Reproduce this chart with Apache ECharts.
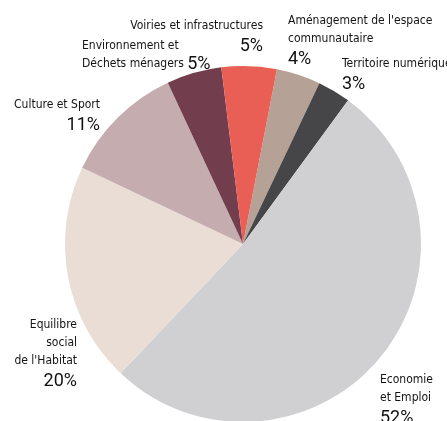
<!DOCTYPE html>
<html>
<head>
<meta charset="utf-8">
<script src="https://cdn.jsdelivr.net/npm/echarts@6/dist/echarts.min.js"></script>
<style>
    html, body {margin: 0; padding: 0; background: #fff;}
    #main {width: 447px; height: 421px;}
</style>
</head>
<body>
<div id="main"></div>
<script>
    // postes de dépense, dans le sens horaire depuis le haut
    var names = [
        "Aménagement de l'espace\ncommunautaire",
        'Territoire numérique',
        'Economie\net Emploi',
        'Equilibre\nsocial\nde l\'Habitat',
        'Culture et Sport',
        'Environnement et\nDéchets ménagers',
        'Voiries et infrastructures'
    ];
    var values = [4, 3, 52, 20, 11, 5, 5];
    var colors = ['#b6a197', '#464547', '#d0d0d2', '#e9ddd5', '#c5adaf', '#723e4e', '#e95f56'];

    // placement des étiquettes (x, y haut, alignement)
    var labelPos = [
        [288, 12, 'left'],
        [342, 55, 'left'],
        [380, 371, 'left'],
        [77, 316, 'right'],
        [100, 96, 'right'],
        [82, 37, 'left'],
        [263, 17, 'right']
    ];

    var nameFont = "'Liberation Sans Narrow', 'DejaVu Sans Condensed', sans-serif";
    var pctFont = 'Roboto';

    var myChart = echarts.init(document.getElementById('main'));

    var data = [];
    for (var i = 0; i < values.length; i++) {
        data.push({
            name: names[i],
            value: values[i],
            itemStyle: {color: colors[i]},
            label: {align: labelPos[i][2]}
        });
    }

    var option = {
        animation: false,
        series: [
            {
                type: 'pie',
                center: [243, 244],
                radius: 178,
                startAngle: 79,
                clockwise: true,
                data: data,
                itemStyle: {borderWidth: 0},
                emphasis: {disabled: true},
                labelLine: {show: false},
                label: {
                    show: true,
                    position: 'outside',
                    overflow: 'none',
                    formatter: function (p) {
                        var lines = p.name.split('\n');
                        var al = labelPos[p.dataIndex][2] == 'right' ? 'r' : 'l';
                        if (p.dataIndex == 5) {
                            return '{n' + al + '|' + lines[0] + '}\n{n' + al + '|' + lines[1] + '} {q|' + p.value + '%}';
                        }
                        var s = lines.map(function (l) {
                            return '{n' + al + '|' + l + '}';
                        }).join('\n');
                        return s + '\n{p' + al + '|' + p.value + '%}';
                    },
                    rich: {
                        nl: {fontFamily: nameFont, fontSize: 12, color: '#141414', lineHeight: 18, align: 'left'},
                        nr: {fontFamily: nameFont, fontSize: 12, color: '#141414', lineHeight: 18, align: 'right'},
                        pl: {fontFamily: pctFont, fontSize: 18, color: '#111', lineHeight: 22, align: 'left'},
                        pr: {fontFamily: pctFont, fontSize: 18, color: '#111', lineHeight: 22, align: 'right'},
                        q: {fontFamily: pctFont, fontSize: 18, color: '#111', lineHeight: 18}
                    }
                },
                labelLayout: function (params) {
                    var lp = labelPos[params.dataIndex];
                    return {x: lp[0], y: lp[1], align: lp[2], verticalAlign: 'top'};
                }
            }
        ]
    };
    myChart.setOption(option);
</script>
</body>
</html>
